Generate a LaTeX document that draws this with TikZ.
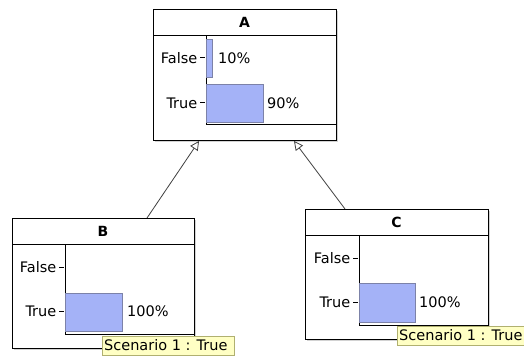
\documentclass[tikz,border=0pt]{standalone}
\usepackage{fontspec}
\setmainfont{DejaVu Sans}
\usetikzlibrary{arrows.meta,shadows}
\definecolor{barfill}{HTML}{A4B2F7}
\definecolor{barline}{HTML}{7C82A8}
\definecolor{tipfill}{HTML}{FFFFC4}
\definecolor{tipline}{HTML}{B0B070}
\tikzset{
  netbox/.style={draw=black, line width=1pt, fill=white, anchor=north west, inner sep=0pt,
    drop shadow={shadow xshift=1.5pt, shadow yshift=-1.5pt, opacity=0.35, fill=gray}},
  axisline/.style={draw=black, line width=1pt},
  bar/.style={draw=barline, line width=0.6pt, fill=barfill},
  lbl/.style={font=\fontsize{14.5}{17}\selectfont, inner sep=0pt},
  ttl/.style={font=\fontsize{14}{17}\selectfont\bfseries, inner sep=0pt},
  tip/.style={draw=tipline, line width=0.6pt, fill=tipfill, anchor=north west, inner sep=0pt},
  tiptext/.style={font=\fontsize{14.5}{17}\selectfont, inner sep=0pt, anchor=west},
  link/.style={draw=black!75, line width=0.8pt, -{Triangle[open, length=9pt, width=9pt]}}
}
\begin{document}
\begin{tikzpicture}[x=1pt,y=-1pt]
\useasboundingbox[fill=white] (0,0) rectangle (524,358);

% ---- node A ----
\node[netbox, minimum width=183pt, minimum height=131pt] (A) at (153,9) {};
\draw[axisline] (153,35.5) -- (336,35.5);
\node[ttl] (At) at (244.5,22.5) {A};
\draw[axisline] (206,35.5) -- (206,125) -- (336,125);
\draw[bar] (206,39) rectangle (212,77);
\draw[bar] (206,84) rectangle (263,122);
\draw[axisline] (200,58) -- (205,58);
\draw[axisline] (200,103) -- (205,103);
\node[lbl, anchor=east] (Af) at (197.5,58) {False};
\node[lbl, anchor=east] (Atr) at (197.5,103) {True};
\node[lbl, anchor=west] (Ap1) at (218,58) {10\%};
\node[lbl, anchor=west] (Ap2) at (267,103) {90\%};

% ---- node B ----
\node[netbox, minimum width=182pt, minimum height=130pt] (B) at (12,218) {};
\draw[axisline] (12,244) -- (194,244);
\node[ttl] (Bt) at (103,231) {B};
\draw[axisline] (65,244) -- (65,334) -- (194,334);
\draw[bar] (65,293) rectangle (122,331);
\draw[axisline] (59,267) -- (64,267);
\draw[axisline] (59,311) -- (64,311);
\node[lbl, anchor=east] (Bf) at (56.5,267) {False};
\node[lbl, anchor=east] (Btr) at (56.5,311) {True};
\node[lbl, anchor=west] (Bp) at (127,311) {100\%};
\node[tip, minimum width=132pt, minimum height=19pt] (Bs) at (102,336) {};
\node[tiptext] at (104,345.5) {Scenario 1 : True};

% ---- node C ----
\node[netbox, minimum width=183pt, minimum height=130pt] (C) at (305,209) {};
\draw[axisline] (305,235) -- (488,235);
\node[ttl] (Ct) at (396.5,222) {C};
\draw[axisline] (359,235) -- (359,325) -- (488,325);
\draw[bar] (359,283) rectangle (415,322);
\draw[axisline] (353,258) -- (358,258);
\draw[axisline] (353,302) -- (358,302);
\node[lbl, anchor=east] (Cf) at (350.5,258) {False};
\node[lbl, anchor=east] (Ctr) at (350.5,302) {True};
\node[lbl, anchor=west] (Cp) at (419,302) {100\%};
\node[tip, minimum width=127pt, minimum height=19pt] (Cs) at (397,326) {};
\node[tiptext] at (399,335.5) {Scenario 1 : True};

% ---- links ----
\coordinate (Bout) at (147,218);
\coordinate (Cout) at (345,209);
\coordinate (Ain1) at (199,141);
\coordinate (Ain2) at (294,141);
\draw[link] (Bout) -- (Ain1);
\draw[link] (Cout) -- (Ain2);
\end{tikzpicture}
\end{document}
